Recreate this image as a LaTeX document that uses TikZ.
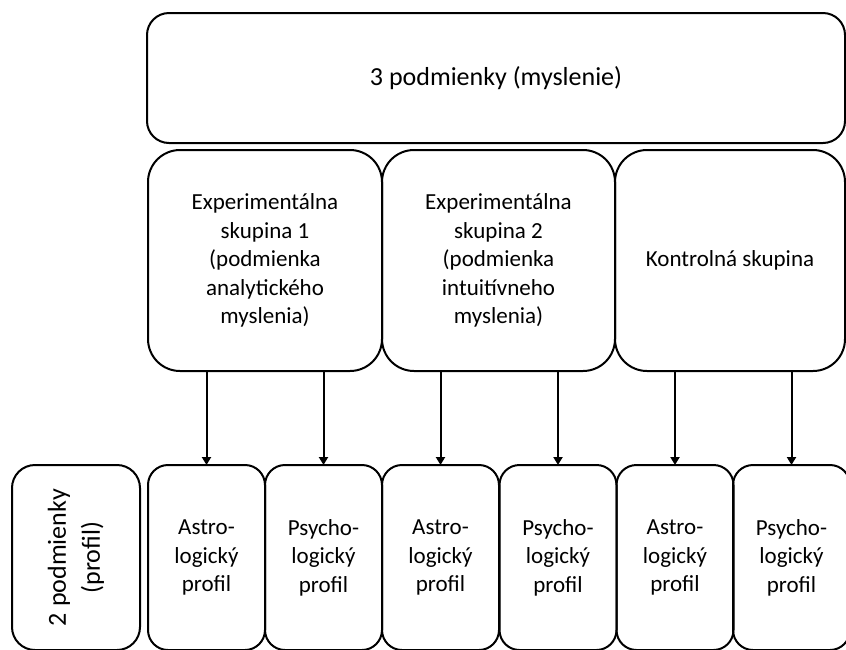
\documentclass[tikz,border=0pt]{standalone}
\usepackage{fontspec}
\setmainfont{Carlito}
\usetikzlibrary{arrows.meta}

\begin{document}
\begin{tikzpicture}[x=1pt, y=-1pt,
		box/.style={draw=black, line width=2pt, rounded corners=#1,
			inner sep=0pt, outer sep=0pt, align=center,
			font=\fontsize{23}{28.5}\selectfont},
		box/.default=20pt,
		arr/.style={-{Triangle[length=8pt, width=9pt]}, line width=2pt}]
	\useasboundingbox (0,0) rectangle (846,649);
	\def\gw{233}   % group box width
	\def\pw{117}   % profile box width
	\def\ph{185}   % profile box height

	% 3 conditions (thinking)
	\node[box=22pt, minimum width=698, minimum height=130, font=\fontsize{26}{31}\selectfont] (main) at (496, 78)
		{3 podmienky (myslenie)};

	% groups
	\node[box=32pt, minimum width=\gw+1, minimum height=221] (g1) at (265, 260.5)
		{Experimentálna\\skupina 1\\(podmienka\\analytického\\myslenia)};
	\node[box=32pt, minimum width=\gw, minimum height=221] (g2) at (498.5, 260.5)
		{Experimentálna\\skupina 2\\(podmienka\\intuitívneho\\myslenia)};
	\node[box=32pt, minimum width=\gw-3, minimum height=221] (g3) at (730, 260.5)
		{Kontrolná skupina};

	% 2 conditions (profile)
	\node[box=23pt, rotate=90, minimum width=\ph, minimum height=128, font=\fontsize{26}{34}\selectfont] (prof) at (76, 557.5)
		{2 podmienky\\(profil)};

	% profiles
	\node[box, minimum width=\pw, minimum height=\ph] (a1) at (206.5, 557.5) {Astro-\\logický\\profil};
	\node[box, minimum width=\pw, minimum height=\ph] (p1) at (323.5, 557.5) {Psycho-\\logický\\profil};
	\node[box, minimum width=\pw, minimum height=\ph] (a2) at (440.5, 557.5) {Astro-\\logický\\profil};
	\node[box, minimum width=\pw, minimum height=\ph] (p2) at (558, 557.5) {Psycho-\\logický\\profil};
	\node[box, minimum width=\pw, minimum height=\ph] (a3) at (675, 557.5) {Astro-\\logický\\profil};
	\node[box, minimum width=\pw, minimum height=\ph] (p3) at (791.5, 557.5) {Psycho-\\logický\\profil};

	% arrows
	\draw[arr] (a1.north |- g1.south) -- (a1.north);
	\draw[arr] (p1.north |- g1.south) -- (p1.north);
	\draw[arr] (a2.north |- g2.south) -- (a2.north);
	\draw[arr] (p2.north |- g2.south) -- (p2.north);
	\draw[arr] (a3.north |- g3.south) -- (a3.north);
	\draw[arr] (p3.north |- g3.south) -- (p3.north);
\end{tikzpicture}
\end{document}
